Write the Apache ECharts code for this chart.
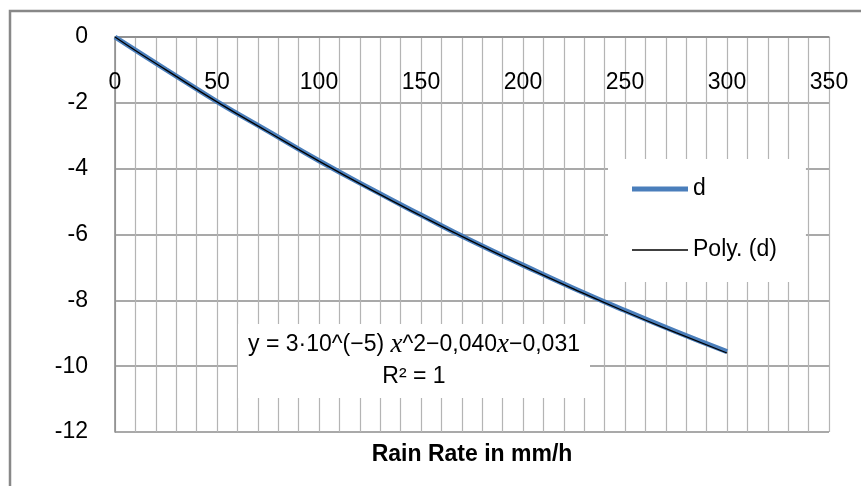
<!DOCTYPE html>
<html>
<head>
    <meta charset="utf-8">
    <title>Rain Rate</title>
    <script src="https://cdn.jsdelivr.net/npm/echarts@6/dist/echarts.min.js"></script>
    <style>
        html, body { margin: 0; padding: 0; background: #fff; }
        #main { width: 861px; height: 486px; }
    </style>
</head>
<body>
<div id="main"></div>

<script type="text/javascript">
    // values
    var rainRate = [0, 10, 25, 50, 75, 100, 125, 150, 175, 200, 225, 250, 275, 300];
    var dValues = [0, -0.40, -0.99, -1.96, -2.86, -3.76, -4.60, -5.41, -6.20, -6.93, -7.64, -8.31, -8.95, -9.56];
    var polyValues = [0, -0.41, -1.00, -1.97, -2.88, -3.77, -4.62, -5.43, -6.21, -6.95, -7.66, -8.34, -8.98, -9.60];
    var xTicks = [0, 50, 100, 150, 200, 250, 300, 350];
    var yTicks = [0, -2, -4, -6, -8, -10, -12];

    var FONT = '"Liberation Sans", Arial, sans-serif';

    function pairs(xs, ys) {
        var out = [];
        for (var i = 0; i < xs.length; i++) {
            out.push([xs[i], ys[i]]);
        }
        return out;
    }

    var option = {
        animation: false,
        backgroundColor: '#fff',
        grid: {
            left: 115,
            top: 37,
            right: 32,
            bottom: 54
        },
        xAxis: {
            type: 'value',
            position: 'top',
            min: xTicks[0],
            max: xTicks[xTicks.length - 1],
            interval: 50,
            axisLine: {show: true, onZero: false, lineStyle: {color: '#888', width: 1.5}},
            axisTick: {show: false},
            axisLabel: {
                inside: true,
                margin: 34,
                color: '#000',
                fontFamily: FONT,
                fontSize: 23
            },
            splitLine: {show: true, lineStyle: {color: '#b4b4b4', width: 1.2}},
            minorTick: {show: false, splitNumber: 5},
            minorSplitLine: {show: true, lineStyle: {color: '#b4b4b4', width: 1.2}}
        },
        yAxis: {
            type: 'value',
            min: yTicks[yTicks.length - 1],
            max: yTicks[0],
            interval: 2,
            axisLine: {show: true, onZero: false, lineStyle: {color: '#888', width: 1.5}},
            axisTick: {show: false},
            axisLabel: {
                margin: 27,
                color: '#000',
                fontFamily: FONT,
                fontSize: 23
            },
            splitLine: {show: true, lineStyle: {color: '#8c8c8c', width: 1.5}}
        },
        legend: {
            orient: 'vertical',
            left: 608,
            top: 159,
            padding: [18, 29, 20, 24],
            itemGap: 37,
            itemWidth: 56,
            itemHeight: 14,
            backgroundColor: '#fff',
            itemStyle: {borderWidth: 0},
            textStyle: {color: '#000', fontFamily: FONT, fontSize: 23, lineHeight: 24},
            data: [
                {name: 'd', icon: 'path://M0,0 L100,0 L100,9 L0,9 Z'},
                {name: 'Poly. (d)', icon: 'path://M0,0 L100,0 L100,2.6 L0,2.6 Z'}
            ]
        },
        graphic: [
            {
                type: 'rect',
                silent: true,
                z: 100,
                shape: {x: 10, y: 11, width: 900, height: 520},
                style: {fill: 'none', stroke: '#888', lineWidth: 2.5}
            },
            {
                type: 'text',
                silent: true,
                z: 100,
                x: 414,
                y: 361,
                style: {
                    text: '{n|y = 3·10^(−5) }{i|x}{n|^2−0,040}{i|x}{n|−0,031}\n{n|R² = 1}',
                    align: 'center',
                    verticalAlign: 'middle',
                    backgroundColor: '#fff',
                    padding: [5, 10, 5, 10],
                    lineHeight: 32,
                    rich: {
                        n: {fontFamily: FONT, fontSize: 23, color: '#000', lineHeight: 32},
                        i: {fontFamily: '"Liberation Serif", serif', fontStyle: 'italic', fontSize: 27, color: '#000', lineHeight: 32}
                    }
                }
            },
            {
                type: 'text',
                silent: true,
                x: 472,
                y: 455,
                style: {
                    text: 'Rain Rate in mm/h',
                    align: 'center',
                    verticalAlign: 'middle',
                    fontFamily: FONT,
                    fontWeight: 'bold',
                    fontSize: 23,
                    fill: '#000'
                }
            }
        ],
        series: [
            {
                name: 'd',
                type: 'line',
                symbol: 'none',
                smooth: true,
                color: '#4a7ebb',
                lineStyle: {color: '#4a7ebb', width: 5},
                data: pairs(rainRate, dValues)
            },
            {
                name: 'Poly. (d)',
                type: 'line',
                symbol: 'none',
                smooth: true,
                color: '#000',
                lineStyle: {color: '#000', width: 1.3},
                data: pairs(rainRate, polyValues)
            }
        ]
    };

    var myChart = echarts.init(document.getElementById('main'), null, {renderer: 'canvas'});
    myChart.setOption(option);
</script>
</body>
</html>
